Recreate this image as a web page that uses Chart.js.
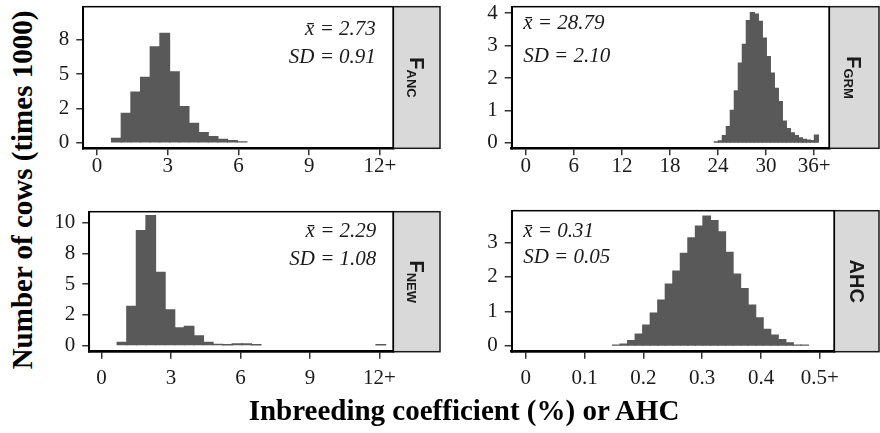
<!DOCTYPE html>
<html>
<head>
<meta charset="utf-8">
<script src="https://cdn.jsdelivr.net/npm/chart.js@4.4.1/dist/chart.umd.min.js"></script>
<style>
  body { margin: 0; background: #fff; width: 880px; height: 433px; position: relative; overflow: hidden; }
  canvas { position: absolute; }
  .ttl { position: absolute; font-family: "Liberation Serif", serif; font-weight: bold; font-size: 29px;
         white-space: nowrap; color: #000; transform: translate(-50%, -50%); }
  #ytitle { left: 22px; top: 190px; transform: translate(-50%, -50%) rotate(-90deg); }
  #xtitle { left: 464px; top: 410px; }
</style>
</head>
<body>
<canvas id="ancChart" width="401" height="190" style="left:40px;top:0px"></canvas>
<canvas id="grmChart" width="410" height="190" style="left:470px;top:0px"></canvas>
<canvas id="newChart" width="401" height="195" style="left:40px;top:200px"></canvas>
<canvas id="ahcChart" width="410" height="195" style="left:470px;top:200px"></canvas>
<div class="ttl" id="ytitle">Number of cows (times 1000)</div>
<div class="ttl" id="xtitle">Inbreeding coefficient (%) or AHC</div>
<script>
// histogram bins (lower edge of first bin, bin width) and counts in thousands
// (null = empty bin)
var ancBinStart = 0.62, ancBinWidth = 0.41;
var ancCounts = [0.32, 2.14, 3.70, 4.77, 7.00, 7.98, 5.18, 2.63, 1.42, 0.73, 0.44, 0.25, 0.15, 0.05];

var grmBinStart = 23.54, grmBinWidth = 0.5;
var grmCounts = [0.03, 0.06, 0.22, 0.50, 1.00, 1.60, 2.46, 3.04, 3.77, 4.02, 3.97, 3.75, 3.23,
                 2.66, 2.15, 1.68, 1.27, 0.67, 0.44, 0.31, 0.22, 0.15, 0.11, 0.08, 0.07, 0.24];

var newBinStart = 0.675, newBinWidth = 0.414;
var newCounts = [0.25, 3.19, 9.37, 10.6, 5.96, 2.91, 1.44, 1.55, 0.79, 0.25, 0.08, 0.05, 0.14, 0.14,
                 0.05, null, null, null, null, null, null, null, null, null, null, null, null, 0.05];

var ahcBinStart = 0.1476, ahcBinWidth = 0.0128;
var ahcCounts = [0.02, 0.05, 0.15, 0.34, 0.60, 0.95, 1.33, 1.79, 2.17, 2.68, 3.13, 3.47, 3.76,
                 3.63, 3.31, 2.71, 2.08, 1.66, 1.18, 0.81, 0.48, 0.31, 0.18, 0.09, 0.02, 0.02];

// tick values and labels
var ancXTicks = [0, 3, 6, 9, 12], ancXLabels = ['0', '3', '6', '9', '12+'];
var ancYTicks = [0, 2.5, 5, 7.5], ancYLabels = ['0', '2', '5', '8'];
var grmXTicks = [0, 6, 12, 18, 24, 30, 36], grmXLabels = ['0', '6', '12', '18', '24', '30', '36+'];
var grmYTicks = [0, 1, 2, 3, 4], grmYLabels = ['0', '1', '2', '3', '4'];
var newXTicks = [0, 3, 6, 9, 12], newXLabels = ['0', '3', '6', '9', '12+'];
var newYTicks = [0, 2.5, 5, 7.5, 10], newYLabels = ['0', '2', '5', '8', '10'];
var ahcXTicks = [0, 0.1, 0.2, 0.3, 0.4, 0.5], ahcXLabels = ['0', '0.1', '0.2', '0.3', '0.4', '0.5+'];
var ahcYTicks = [0, 1, 2, 3], ahcYLabels = ['0', '1', '2', '3'];

// summary text
var ancNotes = ['x\u0304 = 2.73', 'SD = 0.91'];
var grmNotes = ['x\u0304 = 28.79', 'SD = 2.10'];
var newNotes = ['x\u0304 = 2.29', 'SD = 1.08'];
var ahcNotes = ['x\u0304 = 0.31', 'SD = 0.05'];

function binPoints(start, width, counts) {
    return counts.map(function(c, i) {
        return { x: start + width * (i + 0.5), y: c };
    });
}

// panel frame, facet strip and the mean / SD text
var panelDeco = {
    id: 'panelDeco',
    afterDraw: function(chart, args, o) {
        var ctx = chart.ctx, a = chart.chartArea;
        ctx.save();
        ctx.fillStyle = '#d9d9d9';
        ctx.fillRect(a.right, a.top, o.stripWidth, a.bottom - a.top);
        ctx.strokeStyle = '#1a1a1a';
        ctx.lineWidth = 1.5;
        ctx.strokeRect(a.right, a.top, o.stripWidth, a.bottom - a.top);
        ctx.strokeStyle = '#000';
        ctx.strokeRect(a.left, a.top, a.right - a.left, a.bottom - a.top);

        // strip label, rotated to read downwards
        var cx = a.right + o.stripWidth / 2, cy = (a.top + a.bottom) / 2;
        ctx.translate(cx, cy);
        ctx.rotate(Math.PI / 2);
        ctx.fillStyle = '#1a1a1a';
        ctx.textBaseline = 'alphabetic';
        ctx.textAlign = 'left';
        ctx.font = 'bold 20px "Liberation Sans", Arial, sans-serif';
        var wMain = ctx.measureText(o.main).width;
        ctx.font = 'bold 13px "Liberation Sans", Arial, sans-serif';
        var wSub = o.sub ? ctx.measureText(o.sub).width : 0;
        var x0 = -(wMain + wSub) / 2;
        var base = 7;
        ctx.font = 'bold 20px "Liberation Sans", Arial, sans-serif';
        ctx.fillText(o.main, x0, base);
        if (o.sub) {
            ctx.font = 'bold 13px "Liberation Sans", Arial, sans-serif';
            ctx.fillText(o.sub, x0 + wMain, base + 3);
        }
        ctx.setTransform(1, 0, 0, 1, 0, 0);

        ctx.font = 'italic 21px "Liberation Serif", serif';
        ctx.fillStyle = '#1a1a1a';
        ctx.textAlign = o.noteAlign;
        var nx = o.noteAlign === 'right' ? a.right - o.noteInset : a.left + o.noteInset;
        o.notes.forEach(function(t, i) {
            ctx.fillText(t, nx, a.top + o.noteBase[i]);
        });
        ctx.restore();
    }
};

function makePanel(id, p) {
    var tickFont = { family: '"Liberation Serif", serif', size: 21 };
    return new Chart(document.getElementById(id), {
        type: 'bar',
        data: {
            datasets: [{
                data: binPoints(p.binStart, p.binWidth, p.counts),
                backgroundColor: '#595959',
                borderWidth: 0,
                inflateAmount: 0.6,
                barPercentage: 1,
                categoryPercentage: 1
            }]
        },
        options: {
            responsive: false,
            animation: false,
            layout: { padding: { top: p.padTop, right: p.stripWidth + 1, left: 0, bottom: 0 } },
            plugins: {
                legend: { display: false },
                tooltip: { enabled: false },
                panelDeco: {
                    stripWidth: p.stripWidth, main: p.main, sub: p.sub,
                    notes: p.notes, noteAlign: p.noteAlign, noteInset: p.noteInset, noteBase: p.noteBase
                }
            },
            scales: {
                x: {
                    type: 'linear',
                    offset: false,
                    min: p.xMin, max: p.xMax,
                    afterBuildTicks: function(s) { s.ticks = p.xTicks.map(function(v) { return { value: v }; }); },
                    afterFit: function(s) { s.height = p.xAxisHeight; s.paddingLeft = 0; s.paddingRight = 0; },
                    ticks: {
                        autoSkip: false, maxRotation: 0, padding: p.xPad, color: '#1a1a1a', font: tickFont,
                        callback: function(v, i) { return p.xLabels[i]; }
                    },
                    grid: { drawOnChartArea: false, offset: false, tickLength: 7, color: '#333', lineWidth: 1.5 },
                    border: { display: true, color: '#000', width: 2.5 }
                },
                y: {
                    min: p.yMin, max: p.yMax,
                    afterBuildTicks: function(s) { s.ticks = p.yTicks.map(function(v) { return { value: v }; }); },
                    afterFit: function(s) { s.width = p.yAxisWidth; s.paddingTop = 0; s.paddingBottom = 0; },
                    ticks: {
                        padding: 7, color: '#1a1a1a', font: tickFont,
                        callback: function(v, i) { return p.yLabels[i]; }
                    },
                    grid: { drawOnChartArea: false, tickLength: 7, color: '#333', lineWidth: 1.5 },
                    border: { display: true, color: '#000', width: 2 }
                }
            }
        },
        plugins: [panelDeco]
    });
}

makePanel('ancChart', {
    binStart: ancBinStart, binWidth: ancBinWidth, counts: ancCounts,
    xTicks: ancXTicks, xLabels: ancXLabels, yTicks: ancYTicks, yLabels: ancYLabels,
    xMin: -0.58, xMax: 12.57, yMin: -0.41, yMax: 9.93, xPad: -1,
    padTop: 6.7, yAxisWidth: 43.3, xAxisHeight: 41.7, stripWidth: 46.7,
    main: 'F', sub: 'ANC', notes: ancNotes, noteAlign: 'right', noteInset: 17.5, noteBase: [28.3, 56.3]
});

makePanel('grmChart', {
    binStart: grmBinStart, binWidth: grmBinWidth, counts: grmCounts,
    xTicks: grmXTicks, xLabels: grmXLabels, yTicks: grmYTicks, yLabels: grmYLabels,
    xMin: -1.76, xMax: 37.9, yMin: -0.17, yMax: 4.2, xPad: -1,
    padTop: 6.7, yAxisWidth: 41.7, xAxisHeight: 41.7, stripWidth: 49.7,
    main: 'F', sub: 'GRM', notes: grmNotes, noteAlign: 'left', noteInset: 11.5, noteBase: [22, 55]
});

makePanel('newChart', {
    binStart: newBinStart, binWidth: newBinWidth, counts: newCounts,
    xTicks: newXTicks, xLabels: newXLabels, yTicks: newYTicks, yLabels: newYLabels,
    xMin: -0.53, xMax: 12.6, yMin: -0.51, yMax: 10.92, xPad: 7,
    padTop: 11.7, yAxisWidth: 49.3, xAxisHeight: 43.3, stripWidth: 46.7,
    main: 'F', sub: 'NEW', notes: newNotes, noteAlign: 'right', noteInset: 17, noteBase: [25, 53.3]
});

makePanel('ahcChart', {
    binStart: ahcBinStart, binWidth: ahcBinWidth, counts: ahcCounts,
    xTicks: ahcXTicks, xLabels: ahcXLabels, yTicks: ahcYTicks, yLabels: ahcYLabels,
    xMin: -0.0239, xMax: 0.5245, yMin: -0.17, yMax: 3.92, xPad: 7,
    padTop: 10.7, yAxisWidth: 41.7, xAxisHeight: 43.3, stripWidth: 44.7,
    main: 'AHC', sub: '', notes: ahcNotes, noteAlign: 'left', noteInset: 11.5, noteBase: [26, 52.3]
});
</script>
</body>
</html>
